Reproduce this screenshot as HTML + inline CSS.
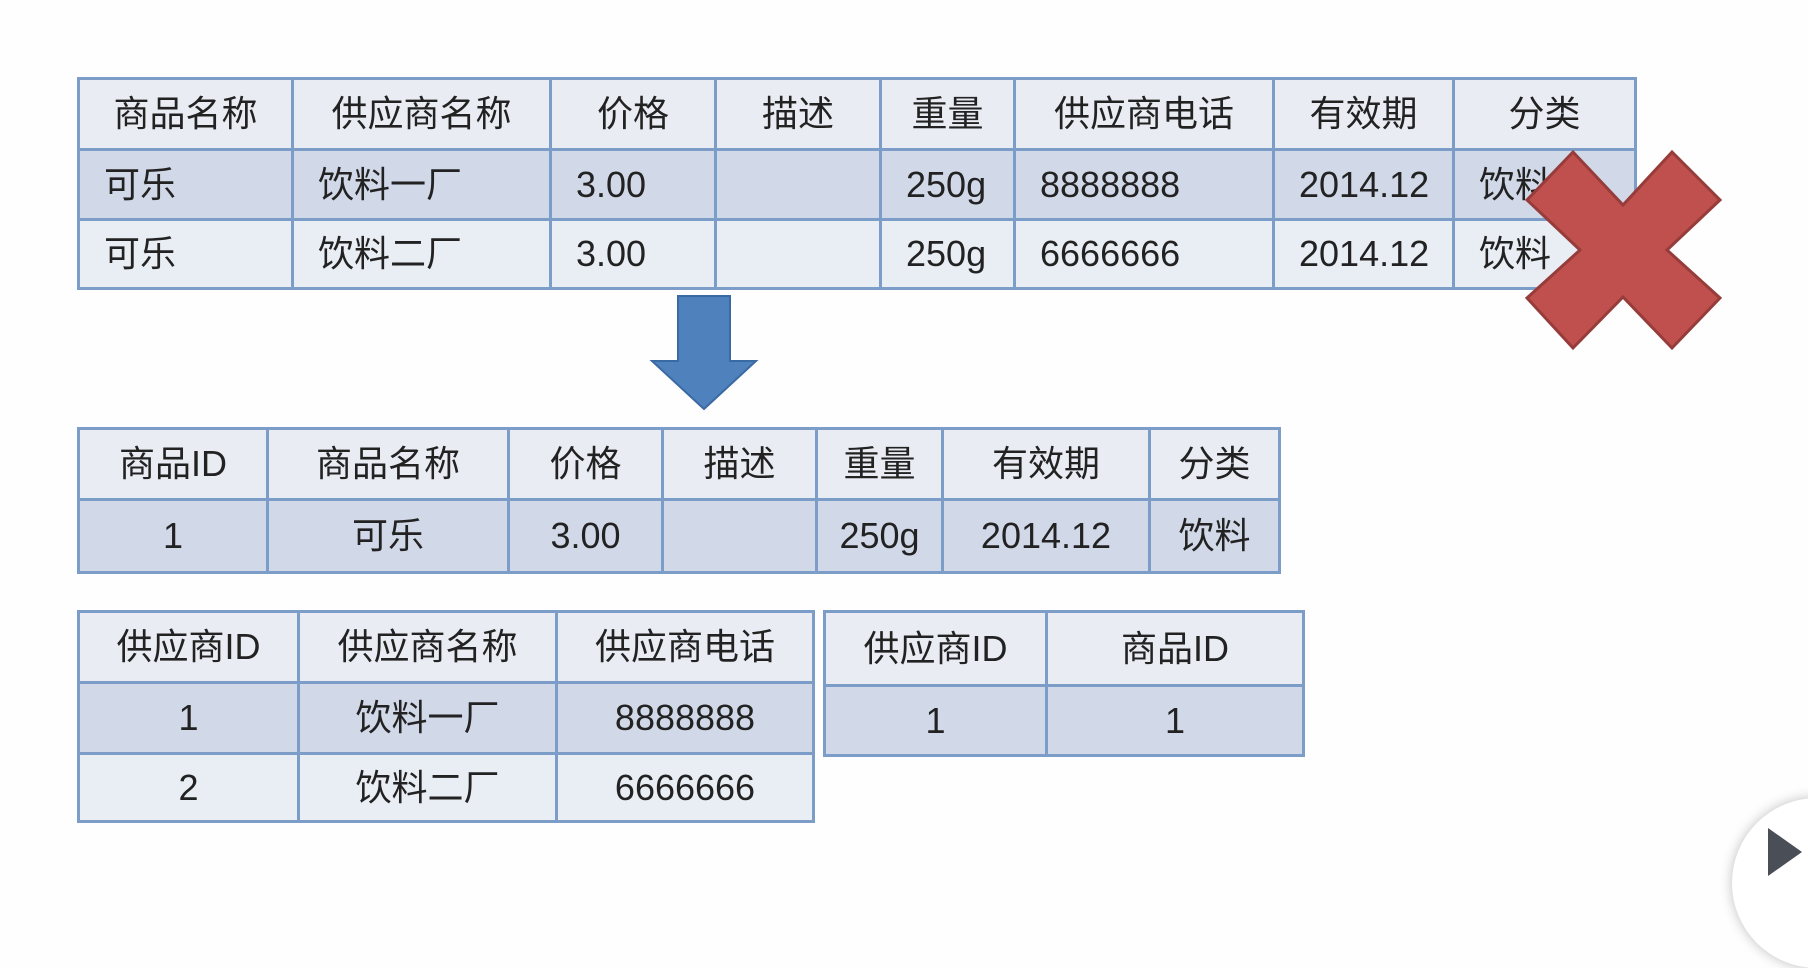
<!DOCTYPE html>
<html><head><meta charset="utf-8"><style>
body{margin:0;width:1808px;height:854px;background:#fefefe;position:relative;overflow:hidden;font-family:"Liberation Sans","Noto Sans CJK SC",sans-serif;color:#222}
table{position:absolute;border-collapse:collapse;table-layout:fixed}
td{border:3px solid #7d9dc9;font-size:36px;padding:0;white-space:nowrap;overflow:hidden;line-height:1}
tr.h td{background:#e9ecf3;text-align:center}
tr.a td{background:#d1d8e8}
tr.b td{background:#e9edf4}
.l td{text-align:left;padding-left:24px}
.c td{text-align:center}
</style></head><body>
<table style="left:77px;top:77px;width:1557px">
<colgroup><col style="width:214px"><col style="width:258px"><col style="width:165px"><col style="width:165px"><col style="width:134px"><col style="width:259px"><col style="width:180px"><col style="width:182px"></colgroup>
<tr class="h" style="height:71px"><td>商品名称</td><td>供应商名称</td><td>价格</td><td>描述</td><td>重量</td><td>供应商电话</td><td>有效期</td><td>分类</td></tr>
<tr class="a l" style="height:70px"><td>可乐</td><td>饮料一厂</td><td>3.00</td><td></td><td>250g</td><td>8888888</td><td>2014.12</td><td>饮料</td></tr>
<tr class="b l" style="height:69px"><td>可乐</td><td>饮料二厂</td><td>3.00</td><td></td><td>250g</td><td>6666666</td><td>2014.12</td><td>饮料</td></tr>
</table>
<svg style="position:absolute;left:0;top:0" width="1808" height="854">
<polygon points="678,296 730,296 730,361 756,361 704,409 652,361 678,361" fill="#4f81bd" stroke="#3a6aa3" stroke-width="2"/>
<polygon points="1573,152 1623,205 1672,152 1720,200 1667,250 1720,298 1672,348 1623,297 1573,348 1527,298 1580,250 1527,200" fill="#c0504d" stroke="#963c3a" stroke-width="3"/>
</svg>
<table style="left:77px;top:427px;width:1201px">
<colgroup><col style="width:189px"><col style="width:241px"><col style="width:154px"><col style="width:154px"><col style="width:126px"><col style="width:207px"><col style="width:130px"></colgroup>
<tr class="h" style="height:71px"><td>商品ID</td><td>商品名称</td><td>价格</td><td>描述</td><td>重量</td><td>有效期</td><td>分类</td></tr>
<tr class="a c" style="height:73px"><td>1</td><td>可乐</td><td>3.00</td><td></td><td>250g</td><td>2014.12</td><td>饮料</td></tr>
</table>
<table style="left:77px;top:610px;width:735px">
<colgroup><col style="width:220px"><col style="width:258px"><col style="width:257px"></colgroup>
<tr class="h" style="height:71px"><td>供应商ID</td><td>供应商名称</td><td>供应商电话</td></tr>
<tr class="a c" style="height:71px"><td>1</td><td>饮料一厂</td><td>8888888</td></tr>
<tr class="b c" style="height:68px"><td>2</td><td>饮料二厂</td><td>6666666</td></tr>
</table>
<table style="left:823px;top:610px;width:479px">
<colgroup><col style="width:222px"><col style="width:257px"></colgroup>
<tr class="h" style="height:74px"><td>供应商ID</td><td>商品ID</td></tr>
<tr class="a c" style="height:70px"><td>1</td><td>1</td></tr>
</table>
<div style="position:absolute;left:1732px;top:798px;width:170px;height:170px;border-radius:50%;background:#fff;box-shadow:0 0 12px rgba(0,0,0,0.25)"></div>
<div style="position:absolute;left:1768px;top:828px;width:0;height:0;border-left:34px solid #4a4f57;border-top:24px solid transparent;border-bottom:24px solid transparent"></div>
</body></html>
